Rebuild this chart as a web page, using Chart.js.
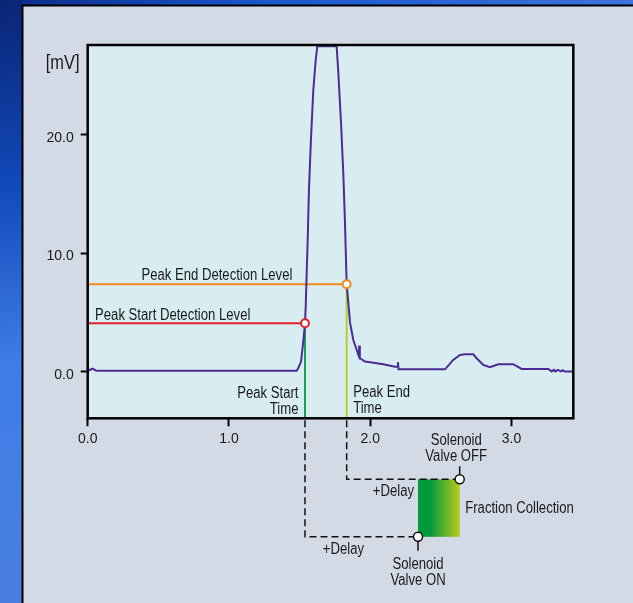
<!DOCTYPE html>
<html>
<head>
<meta charset="utf-8">
<script src="https://cdn.jsdelivr.net/npm/chart.js@4.4.1/dist/chart.umd.min.js"></script>
<style>
  html, body { margin: 0; padding: 0; background: #d3dae6; }
  #wrap { position: relative; width: 633px; height: 603px; }
</style>
</head>
<body>
<div id="wrap"><canvas id="c"></canvas></div>
<script>
// ---- data ----
const timeValues = [0, 0.035, 0.06, 1.479, 1.49, 1.51, 1.527, 1.538, 1.543, 1.550, 1.557, 1.566, 1.580, 1.597, 1.614, 1.625, 1.70, 1.762, 1.774, 1.793, 1.809, 1.821, 1.828, 1.833, 1.857, 1.880, 1.904, 1.918, 1.922, 1.926, 1.962, 1.998, 2.092, 2.175, 2.190, 2.196, 2.200, 2.529, 2.587, 2.635, 2.671, 2.729, 2.753, 2.800, 2.847, 2.906, 3.012, 3.071, 3.260, 3.284, 3.300, 3.310, 3.328, 3.350, 3.360, 3.376, 3.437];
const signalValues = [0.08, 0.25, 0.08, 0.08, 0.29, 0.85, 2.68, 4.09, 5.49, 8.34, 11.13, 15.36, 19.59, 23.82, 26.35, 27.5, 27.5, 27.5, 25.25, 21.03, 16.8, 12.57, 9.5, 7.39, 4.12, 2.68, 1.83, 1.35, 2.2, 1.15, 0.85, 0.79, 0.63, 0.42, 0.42, 0.8, 0.2, 0.2, 0.99, 1.41, 1.47, 1.47, 1.13, 0.57, 0.37, 0.63, 0.63, 0.23, 0.23, 0.02, 0.15, 0.02, 0.15, 0.02, 0.12, 0.02, 0.02];
const peakStartLevel = 4.09;
const peakEndLevel = 7.39;
const peakStartTime = 1.538;
const peakEndTime = 1.833;
const delayTime = 0.8;
const xTicks = [0, 1, 2, 3];
const yTicks = [0, 10, 20];
const xMin = 0, xMax = 3.437;
const yMin = -3.94, yMax = 27.6;

const FONT = '"Liberation Sans", Arial, sans-serif';
const NARROW = 0.82;

const signalPoints = timeValues.map((t, i) => ({ x: t, y: signalValues[i] }));

function narrowText(ctx, text, x, y, align, size) {
  ctx.save();
  ctx.font = size + 'px ' + FONT;
  ctx.textBaseline = 'middle';
  ctx.textAlign = align;
  ctx.translate(x, y);
  ctx.scale(NARROW, 1);
  ctx.fillText(text, 0, 0);
  ctx.restore();
}

const bgPlugin = {
  id: 'bg',
  beforeDraw(chart) {
    const ctx = chart.ctx, W = chart.width, H = chart.height, a = chart.chartArea;
    ctx.save();
    const g = ctx.createLinearGradient(0, 0, 40, H);
    g.addColorStop(0, '#0a2575');
    g.addColorStop(0.3, '#1148b8');
    g.addColorStop(0.6, '#3f7de8');
    g.addColorStop(1, '#4a7fe0');
    ctx.fillStyle = g;
    ctx.fillRect(0, 0, W, H);
    const g2 = ctx.createLinearGradient(0, 0, W, 0);
    g2.addColorStop(0, '#0b2b86');
    g2.addColorStop(0.4, '#1a55cc');
    g2.addColorStop(1, '#3b74dc');
    ctx.fillStyle = g2;
    ctx.fillRect(22, 0, W, 6);
    ctx.fillStyle = '#d3dae6';
    ctx.fillRect(23, 6, W - 23, H - 6);
    ctx.strokeStyle = '#000';
    ctx.lineWidth = 2;
    ctx.beginPath();
    ctx.moveTo(22.5, H); ctx.lineTo(22.5, 5.5); ctx.lineTo(W, 5.5);
    ctx.stroke();
    ctx.fillStyle = '#d8edf2';
    ctx.fillRect(a.left, a.top, a.right - a.left, a.bottom - a.top);
    ctx.restore();
  },
  afterDatasetsDraw(chart) {
    const ctx = chart.ctx, a = chart.chartArea;
    const xs = chart.scales.x, ys = chart.scales.y;
    ctx.save();
    ctx.strokeStyle = '#000';
    ctx.lineWidth = 2.5;
    ctx.strokeRect(a.left, a.top, a.right - a.left, a.bottom - a.top);
    ctx.fillStyle = '#1a1a1a';
    narrowText(ctx, 'Peak End Detection Level', xs.getPixelForValue(0.38), ys.getPixelForValue(peakEndLevel) - 8.5, 'left', 16);
    narrowText(ctx, 'Peak Start Detection Level', xs.getPixelForValue(0.052), ys.getPixelForValue(peakStartLevel) - 7.5, 'left', 16);
    const pxS = xs.getPixelForValue(peakStartTime), pxE = xs.getPixelForValue(peakEndTime);
    narrowText(ctx, 'Peak Start', pxS - 6.5, 393.5, 'right', 16);
    narrowText(ctx, 'Time', pxS - 6.5, 409.5, 'right', 16);
    narrowText(ctx, 'Peak End', pxE + 6.5, 392.5, 'left', 16);
    narrowText(ctx, 'Time', pxE + 6.5, 408.5, 'left', 16);
    narrowText(ctx, '[mV]', 79.5, 63, 'right', 20);
    ctx.restore();
  },
  afterDraw(chart) {
    const ctx = chart.ctx, a = chart.chartArea;
    const xs = chart.scales.x;
    const pxS = xs.getPixelForValue(peakStartTime), pxE = xs.getPixelForValue(peakEndTime);
    const pxOn = xs.getPixelForValue(peakStartTime + delayTime);
    const pxOff = xs.getPixelForValue(peakEndTime + delayTime);
    const yOff = a.bottom + 61, yOn = a.bottom + 118.5;
    ctx.save();
    const g = ctx.createLinearGradient(pxOn, 0, pxOff, 0);
    g.addColorStop(0, '#009a3e');
    g.addColorStop(0.3, '#03993c');
    g.addColorStop(1, '#b8cc1a');
    ctx.fillStyle = g;
    ctx.fillRect(pxOn, yOff, pxOff - pxOn, yOn - yOff);
    ctx.strokeStyle = '#111';
    ctx.lineWidth = 1.5;
    ctx.setLineDash([7, 4]);
    ctx.beginPath();
    ctx.moveTo(pxS, a.bottom + 2); ctx.lineTo(pxS, yOn); ctx.lineTo(pxOn, yOn);
    ctx.moveTo(pxE, a.bottom + 2); ctx.lineTo(pxE, yOff); ctx.lineTo(pxOff, yOff);
    ctx.stroke();
    ctx.setLineDash([]);
    ctx.beginPath();
    ctx.moveTo(pxOff, yOff); ctx.lineTo(pxOff, yOff - 13);
    ctx.moveTo(pxOn, yOn); ctx.lineTo(pxOn, yOn + 14);
    ctx.stroke();
    [[pxOn, yOn], [pxOff, yOff]].forEach(([cx, cy]) => {
      ctx.beginPath();
      ctx.arc(cx, cy, 4.5, 0, Math.PI * 2);
      ctx.fillStyle = '#fff';
      ctx.fill();
      ctx.lineWidth = 1.5;
      ctx.strokeStyle = '#111';
      ctx.stroke();
    });
    ctx.fillStyle = '#1a1a1a';
    narrowText(ctx, 'Solenoid', pxOff - 3.5, 441, 'center', 16);
    narrowText(ctx, 'Valve OFF', pxOff - 3.5, 456.5, 'center', 16);
    narrowText(ctx, 'Solenoid', pxOn, 564.5, 'center', 16);
    narrowText(ctx, 'Valve ON', pxOn, 580.5, 'center', 16);
    narrowText(ctx, '+Delay', pxOn - 4, 492, 'right', 16);
    narrowText(ctx, '+Delay', pxOn - 54, 549.5, 'right', 16);
    narrowText(ctx, 'Fraction Collection', pxOff + 5.5, 508.5, 'left', 16);
    ctx.restore();
  }
};

new Chart(document.getElementById('c'), {
  type: 'line',
  data: {
    datasets: [
      {
        data: [{ x: peakStartTime, y: peakStartLevel }, { x: peakEndTime, y: peakEndLevel }],
        showLine: false, pointRadius: 4, pointBorderWidth: 2,
        pointBackgroundColor: '#ffffff', pointBorderColor: ['#e3202a', '#f08a1c'],
        order: 0
      },
      {
        data: signalPoints, borderColor: '#4a2c92', borderWidth: 2, pointRadius: 0,
        tension: 0, clip: 0, order: 1
      },
      {
        data: [{ x: xMin, y: peakStartLevel }, { x: peakStartTime, y: peakStartLevel }],
        borderColor: '#e3202a', borderWidth: 2, pointRadius: 0, order: 2
      },
      {
        data: [{ x: xMin, y: peakEndLevel }, { x: peakEndTime, y: peakEndLevel }],
        borderColor: '#f08a1c', borderWidth: 2, pointRadius: 0, order: 2
      },
      {
        data: [{ x: peakStartTime, y: peakStartLevel }, { x: peakStartTime, y: yMin }],
        borderColor: '#1f9e55', borderWidth: 2, pointRadius: 0, order: 3
      },
      {
        data: [{ x: peakEndTime, y: peakEndLevel }, { x: peakEndTime, y: yMin }],
        borderColor: '#b6cd28', borderWidth: 2, pointRadius: 0, order: 3
      }
    ]
  },
  options: {
    responsive: true,
    maintainAspectRatio: false,
    animation: false,
    events: [],
    layout: { padding: { left: 0, top: 45, right: 59.7, bottom: 154.7 } },
    plugins: { legend: { display: false }, tooltip: { enabled: false } },
    scales: {
      x: {
        type: 'linear', min: xMin, max: xMax,
        afterBuildTicks: s => { s.ticks = xTicks.map(v => ({ value: v })); },
        afterFit: s => { s.height = 30; },
        grid: { drawOnChartArea: false, drawTicks: true, tickLength: 8, tickColor: '#000', tickWidth: 2 },
        border: { display: false },
        ticks: { color: '#1a1a1a', font: { family: FONT, size: 14 }, padding: 4, maxRotation: 0,
                 callback: v => Number(v).toFixed(1) }
      },
      y: {
        type: 'linear', min: yMin, max: yMax,
        afterBuildTicks: s => { s.ticks = yTicks.map(v => ({ value: v })); },
        afterFit: s => { s.width = 87.7; },
        grid: { drawOnChartArea: false, drawTicks: true, tickLength: 7, tickColor: '#000', tickWidth: 2 },
        border: { display: false },
        ticks: { color: '#1a1a1a', font: { family: FONT, size: 14 }, padding: 7, labelOffset: 3,
                 callback: v => Number(v).toFixed(1) }
      }
    }
  },
  plugins: [bgPlugin]
});
</script>
</body>
</html>
